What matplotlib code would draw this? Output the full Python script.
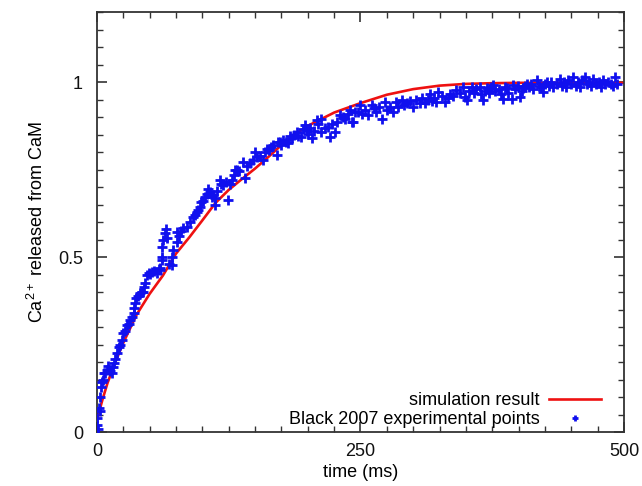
import matplotlib.pyplot as plt
from matplotlib.ticker import MultipleLocator

plt.rcParams['font.family'] = ['Liberation Sans', 'DejaVu Sans']
plt.rcParams['mathtext.fontset'] = 'custom'
plt.rcParams['mathtext.rm'] = 'Liberation Sans'

# simulation curve (time in ms, fraction released)
t_sim = [0, 5, 10, 17.5, 25, 37.5, 50, 62.5, 75, 87.5, 100, 112.5, 125, 137.5,
         150, 162.5, 175, 187.5, 200, 225, 250, 275, 300, 325, 350, 375, 400,
         450, 500]
v_sim = [0.035, 0.09, 0.14, 0.20, 0.255, 0.335, 0.395, 0.447, 0.51, 0.556,
         0.605, 0.655, 0.692, 0.723, 0.753, 0.786, 0.82, 0.85, 0.875, 0.913,
         0.94, 0.964, 0.98, 0.99, 0.995, 0.997, 0.998, 0.998, 0.998]

# Black 2007 experimental points
t_exp = [0, 0.5, 1, 1.6, 2.5, 3, 3.5, 4.7, 6, 7, 8, 9.5, 10.5, 12, 14, 15, 16,
         17.5, 19, 20.6, 22, 23.7, 25, 26.5, 28.5, 30, 31.6, 33, 34.8, 35.5,
         36.4, 37.5, 39, 41, 42.5, 44, 45, 46, 47.4, 49, 50, 52, 54, 57, 58.5,
         60, 61.4, 61.7, 62, 63, 64.5, 65.5, 66, 60, 68, 71, 71, 72.4, 75.6,
         75.6, 78, 80, 82, 85, 88, 91.4, 93, 94.6, 96, 97.7, 99, 100.5, 102.5,
         104, 105.6, 107, 108.8, 110, 112, 112, 114, 116.7, 118, 120, 122,
         124.6, 126, 128, 130, 131, 132.5, 135, 138.8, 140, 142, 145, 148, 150,
         152, 155, 158, 159, 161, 163, 165, 167, 170.5, 172, 173.6, 175, 176.8,
         179, 181.5, 183, 184.7, 187, 189.5, 191, 194, 195.5, 197, 199, 200.5,
         202, 203.7, 206, 208.4, 210, 213, 213, 216, 219.5, 221, 223, 225.8,
         228, 230.5, 233, 235, 238, 240, 241.6, 243, 245, 248, 249.5, 251, 254,
         257, 260.6, 263, 265, 268, 270, 273, 275, 278, 281, 284, 286, 289,
         291, 294, 297, 300, 303, 306, 308, 311, 314, 316, 318, 320, 322, 324,
         327, 330, 333, 335, 338, 341, 344, 347.6, 349, 351, 353, 355.5, 358,
         360, 363, 364, 366.5, 368, 369.7, 372, 374, 376, 378, 381, 383, 385.5,
         387, 388.7, 390, 393.4, 395, 397, 399, 401, 403, 404.5, 406, 407.7,
         410, 412, 414, 417, 419, 421, 423.5, 425, 426.6, 429, 431, 433, 436,
         439, 441, 443, 445, 447, 450, 452, 454, 456, 458, 460, 463, 465, 467,
         469, 471, 473, 476, 478, 480, 482, 485, 488, 490, 491, 493]
v_exp = [0.02, 0.04, 0.01, 0.07, 0.06, 0.10, 0.13, 0.144, 0.15, 0.17, 0.168,
         0.177, 0.19, 0.175, 0.168, 0.185, 0.197, 0.21, 0.225, 0.244, 0.25,
         0.263, 0.283, 0.29, 0.306, 0.31, 0.32, 0.33, 0.34, 0.355, 0.368,
         0.383, 0.39, 0.397, 0.40, 0.40, 0.415, 0.425, 0.449, 0.455, 0.453,
         0.458, 0.46, 0.454, 0.465, 0.469, 0.50, 0.491, 0.53, 0.549, 0.568,
         0.58, 0.555, 0.463, 0.48, 0.477, 0.50, 0.52, 0.544, 0.572, 0.56, 0.575,
         0.583, 0.587, 0.60, 0.615, 0.62, 0.629, 0.635, 0.644, 0.658, 0.66,
         0.672, 0.68, 0.696, 0.685, 0.672, 0.678, 0.668, 0.65, 0.69, 0.72,
         0.71, 0.706, 0.715, 0.663, 0.71, 0.72, 0.735, 0.749, 0.749, 0.745,
         0.772, 0.725, 0.76, 0.77, 0.777, 0.80, 0.785, 0.79, 0.777, 0.80, 0.81,
         0.805, 0.815, 0.82, 0.791, 0.83, 0.829, 0.82, 0.834, 0.83, 0.825,
         0.845, 0.839, 0.85, 0.858, 0.845, 0.844, 0.865, 0.877, 0.86, 0.853,
         0.87, 0.839, 0.86, 0.891, 0.88, 0.896, 0.858, 0.87, 0.872, 0.844,
         0.88, 0.858, 0.885, 0.906, 0.90, 0.896, 0.91, 0.92, 0.887, 0.887,
         0.915, 0.915, 0.934, 0.91, 0.92, 0.906, 0.934, 0.925, 0.915, 0.93,
         0.896, 0.944, 0.92, 0.93, 0.915, 0.944, 0.93, 0.949, 0.935, 0.939,
         0.945, 0.93, 0.949, 0.94, 0.955, 0.939, 0.95, 0.967, 0.945, 0.955,
         0.944, 0.972, 0.96, 0.944, 0.955, 0.967, 0.96, 0.977, 0.97, 0.987,
         0.958, 0.949, 0.975, 0.987, 0.97, 0.98, 0.987, 0.967, 0.949, 0.975,
         0.982, 0.97, 0.985, 0.991, 0.975, 0.98, 0.965, 0.953, 0.985, 0.982,
         0.97, 0.953, 0.991, 0.98, 0.99, 0.958, 0.975, 0.982, 0.99, 0.996,
         0.985, 0.995, 0.98, 1.006, 0.99, 0.985, 0.972, 0.995, 1.001, 0.99,
         1.0, 0.985, 0.995, 1.01, 0.99, 1.0, 0.985, 1.005, 0.995, 1.015, 0.99,
         1.0, 0.985, 1.005, 1.015, 0.995, 1.0, 0.99, 1.01, 0.995, 1.0, 0.985,
         1.005, 0.995, 1.0, 0.996, 0.99, 1.015, 0.995]

fig = plt.figure(figsize=(6.42, 4.86), dpi=100)
ax = fig.add_axes([0.151, 0.111, 0.821, 0.864])

ax.plot(t_sim, v_sim, color='#ee1111', lw=1.9, label='simulation result', zorder=2)
ax.plot(t_exp, v_exp, ls='none', marker='+', ms=7, mew=2.0, color='#1010ee',
        label='Black 2007 experimental points', zorder=3)

ax.set_xlim(0, 500)
ax.set_ylim(0, 1.2)
ax.xaxis.set_minor_locator(MultipleLocator(25))
ax.yaxis.set_minor_locator(MultipleLocator(0.05))
ax.set_xticks([0, 250, 500], ['0', '250', '500'])
ax.set_yticks([0, 0.5, 1], ['0', '0.5', '1'])

ax.tick_params(which='both', direction='in', top=True, right=True,
               colors='#333333', labelcolor='#111111', labelsize=13)
ax.tick_params(which='major', length=7, width=1.2)
ax.tick_params(which='minor', length=4, width=1.0)
ax.tick_params(axis='y', pad=10)
ax.tick_params(axis='x', pad=8)
for s in ax.spines.values():
    s.set_linewidth(1.3)
    s.set_color('#333333')

ax.set_xlabel('time (ms)', fontsize=13, labelpad=3)
ax.set_ylabel('Ca$^{2+}$ released from CaM', fontsize=13, labelpad=8)

ax.legend(loc='lower right', bbox_to_anchor=(0.97, -0.008), frameon=False,
          markerfirst=False, fontsize=13, handlelength=2.9, handletextpad=0.5,
          labelspacing=0.12, borderaxespad=0.0, markerscale=0.7)

fig.savefig('out.png', dpi=100)
